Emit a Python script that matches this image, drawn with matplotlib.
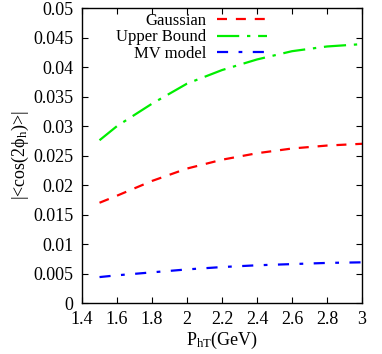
import matplotlib
matplotlib.use("Agg")
import matplotlib.pyplot as plt

plt.rcParams['font.family'] = ['Liberation Serif', 'DejaVu Serif']
plt.rcParams['mathtext.fontset'] = 'custom'
plt.rcParams['mathtext.rm'] = 'Liberation Serif'
plt.rcParams['mathtext.it'] = 'Liberation Serif:italic'

pht = [1.5, 1.6, 1.8, 2.0, 2.2, 2.4, 2.6, 2.8, 3.0]
gaussian = [0.0170, 0.0182, 0.0207, 0.0228, 0.0243, 0.0254, 0.0262, 0.0267, 0.0270]
upper_bound = [0.0276, 0.0300, 0.0338, 0.0372, 0.0395, 0.0413, 0.0427, 0.0435, 0.0439]
mv_model = [0.0044, 0.0047, 0.0052, 0.0057, 0.0061, 0.0064, 0.0066, 0.0068, 0.0069]

xticks = [1.4, 1.6, 1.8, 2.0, 2.2, 2.4, 2.6, 2.8, 3.0]
xticklabels = ['1.4', '1.6', '1.8', '2', '2.2', '2.4', '2.6', '2.8', '3']
yticks = [0, 0.005, 0.01, 0.015, 0.02, 0.025, 0.03, 0.035, 0.04, 0.045, 0.05]
yticklabels = ['0', '0.005', '0.01', '0.015', '0.02', '0.025', '0.03', '0.035', '0.04', '0.045', '0.05']

fig = plt.figure(figsize=(3.82, 3.54), dpi=100)
ax = fig.add_axes([0.2147, 0.144, 0.733, 0.833])

lw = 1.6
ax.plot(pht, gaussian, color='#ff0000', lw=lw, dashes=(4.5, 4), label='Gaussian')
ax.plot(pht, upper_bound, color='#00ee00', lw=lw, dashes=(10, 3.5, 1.5, 3.5), label='Upper Bound')
ax.plot(pht, mv_model, color='#0000ff', lw=lw, dashes=(5, 4.7, 1.7, 4.7), label='MV model')

ax.set_xlim(1.4, 3.0)
ax.set_ylim(0, 0.05)
ax.set_xticks(xticks)
ax.set_xticklabels(xticklabels)
ax.set_yticks(yticks)
ax.set_yticklabels(yticklabels)
ax.tick_params(direction='in', top=True, right=True, labelsize=13, length=4, width=0.8, pad=6)
for s in ax.spines.values():
    s.set_linewidth(1.0)

ax.set_xlabel(r'$\mathrm{P_{hT}}$(GeV)', fontsize=13, labelpad=1)
ax.set_ylabel(r'|<cos(2$\mathrm{\phi_h}$)>|', fontsize=13, labelpad=2)

leg = ax.legend(loc='upper right', bbox_to_anchor=(0.661, 0.985), frameon=False,
                markerfirst=False, fontsize=12, handlelength=3.0,
                labelspacing=0.05, handletextpad=0.65, borderaxespad=0.0,
                borderpad=0.0)
for t in leg.get_texts():
    t.set_ha('right')
leg._legend_box.align = 'right'

fig.savefig('out.png', dpi=100)
